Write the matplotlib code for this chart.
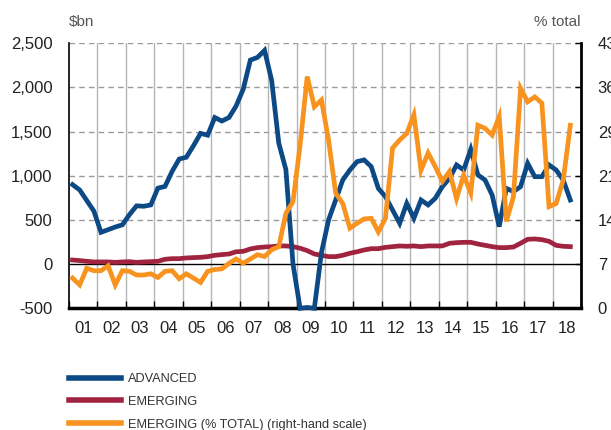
import numpy as np
import matplotlib
matplotlib.use('Agg')
from matplotlib import pyplot as plt

plt.rcParams['font.family'] = ['Liberation Sans', 'DejaVu Sans']

# quarterly data, 2001Q1 .. 2018Q3
advanced = [900, 840, 720, 600, 360, 390, 420, 445, 560, 660, 655, 670,
            860, 880, 1050, 1190, 1210, 1340, 1480, 1460, 1660, 1620, 1660, 1790,
            1980, 2310, 2340, 2420, 2080, 1370, 1070, 0, -500, -490, -500, 130,
            500, 726, 953, 1066, 1160, 1180, 1104, 858, 764, 613, 462, 688,
            519, 726, 670, 745, 877, 971, 1123, 1066, 1300, 1010, 953, 783,
            425, 858, 821, 877, 1141, 990, 990, 1123, 1066, 953, 726]
emerging = [47, 40, 32, 25, 25, 25, 20, 25, 28, 20, 25, 28,
            32, 55, 62, 62, 70, 74, 77, 85, 100, 108, 115, 140,
            145, 172, 187, 194, 198, 206, 206, 198, 180, 153, 115, 100,
            85, 85, 100, 123, 140, 160, 175, 175, 190, 198, 206, 202,
            206, 198, 206, 206, 206, 236, 243, 247, 247, 228, 213, 198,
            187, 187, 194, 236, 281, 285, 277, 258, 213, 202, 198]
emerging_pct = [4.9, 3.8, 6.5, 6.1, 6.1, 6.9, 3.8, 6.1, 6.0, 5.4, 5.4, 5.6,
                5.0, 6.0, 6.1, 4.8, 5.6, 4.9, 4.2, 6.0, 6.3, 6.4, 7.3, 8.0,
                7.3, 8.0, 8.7, 8.4, 9.5, 10.0, 15.4, 17.3, 26.5, 37.6, 32.7, 33.8,
                27.3, 18.7, 17.0, 13.0, 13.8, 14.5, 14.6, 12.4, 14.6, 26.0, 27.3, 28.4,
                31.4, 22.4, 25.2, 23.0, 20.6, 22.2, 17.8, 21.6, 18.7, 29.7, 29.2, 28.1,
                31.1, 14.1, 18.1, 35.7, 33.5, 34.3, 33.3, 16.5, 17.0, 20.8, 29.7]
year_labels = ['%02d' % y for y in range(1, 19)]
right_labels = ['0', '7', '14', '21', '29', '36', '43']

blue = '#0d4a85'
red = '#a0243f'
orange = '#f7931e'

x = 2001 + (np.arange(len(advanced)) + 0.5) / 4.0

fig = plt.figure(figsize=(6.11, 4.30), dpi=100)
ax = fig.add_axes([69 / 611, 1 - 308.3 / 430, 512 / 611, 265 / 430])

ax.set_xlim(2001, 2019)
ax.set_ylim(-500, 2500)
ax.set_yticks(np.arange(-500, 2501, 500))
ax.set_yticklabels(['{:,}'.format(v) for v in range(-500, 2501, 500)])

for v in range(500, 2501, 500):
    ax.axhline(v, color='#9a9a9a', lw=1, ls=(0, (4, 3)), zorder=1)
for yr in range(2002, 2019):
    ax.axvline(yr, color='#b5b5b5', lw=1, zorder=1)
ax.axhline(0, color='black', lw=1, zorder=2)

l_em, = ax.plot(x, emerging, color=red, lw=3.4, solid_joinstyle='miter', zorder=3)
l_adv, = ax.plot(x, advanced, color=blue, lw=3.4, solid_joinstyle='miter', zorder=4,
                 clip_on=False)

ax.set_xticks(range(2001, 2020))
ax.set_xticklabels([])
ax.set_xticks(np.arange(2001.5, 2019, 1), minor=True)
ax.set_xticklabels(year_labels, minor=True)
ax.tick_params(axis='x', which='major', direction='in', length=5, width=1, color='black')
ax.tick_params(axis='x', which='minor', length=0, pad=9, labelsize=12, labelcolor='#222222')
ax.tick_params(axis='y', length=0, pad=12, labelsize=12, labelcolor='#222222')

ax.spines['top'].set_visible(False)
ax.spines['right'].set_visible(False)
ax.spines['left'].set_linewidth(1.2)
ax.spines['bottom'].set_linewidth(2.5)

ax2 = ax.twinx()
ax2.set_ylim(0, 43)
ax2.set_yticks(np.linspace(0, 43, 7))
ax2.set_yticklabels(right_labels)
l_pct, = ax2.plot(x, emerging_pct, color=orange, lw=3.4, solid_joinstyle='miter', zorder=5)
ax2.tick_params(axis='y', direction='in', length=4, width=1, pad=12, labelsize=12,
                labelcolor='#222222')
for s in ['top', 'left', 'bottom']:
    ax2.spines[s].set_visible(False)
ax2.spines['right'].set_linewidth(2)

fig.text(69 / 611, 1 - 22 / 430, '$bn', fontsize=11, color='#555555', ha='left', va='center')
fig.text(581 / 611, 1 - 22 / 430, '% total', fontsize=11, color='#555555', ha='right', va='center')

leg = fig.legend([l_adv, l_em, l_pct],
                 ['ADVANCED', 'EMERGING', 'EMERGING (% TOTAL) (right-hand scale)'],
                 loc='upper left', bbox_to_anchor=(69 / 611, 1 - 373 / 430), frameon=False,
                 borderpad=0, borderaxespad=0,
                 handlelength=4.1, handletextpad=0.55, labelspacing=0.85,
                 prop={'size': 9.2})
for t in leg.get_texts():
    t.set_color('#333333')
for h in leg.get_lines():
    h.set_linewidth(4)

fig.savefig('out.png', dpi=100, facecolor='white')
